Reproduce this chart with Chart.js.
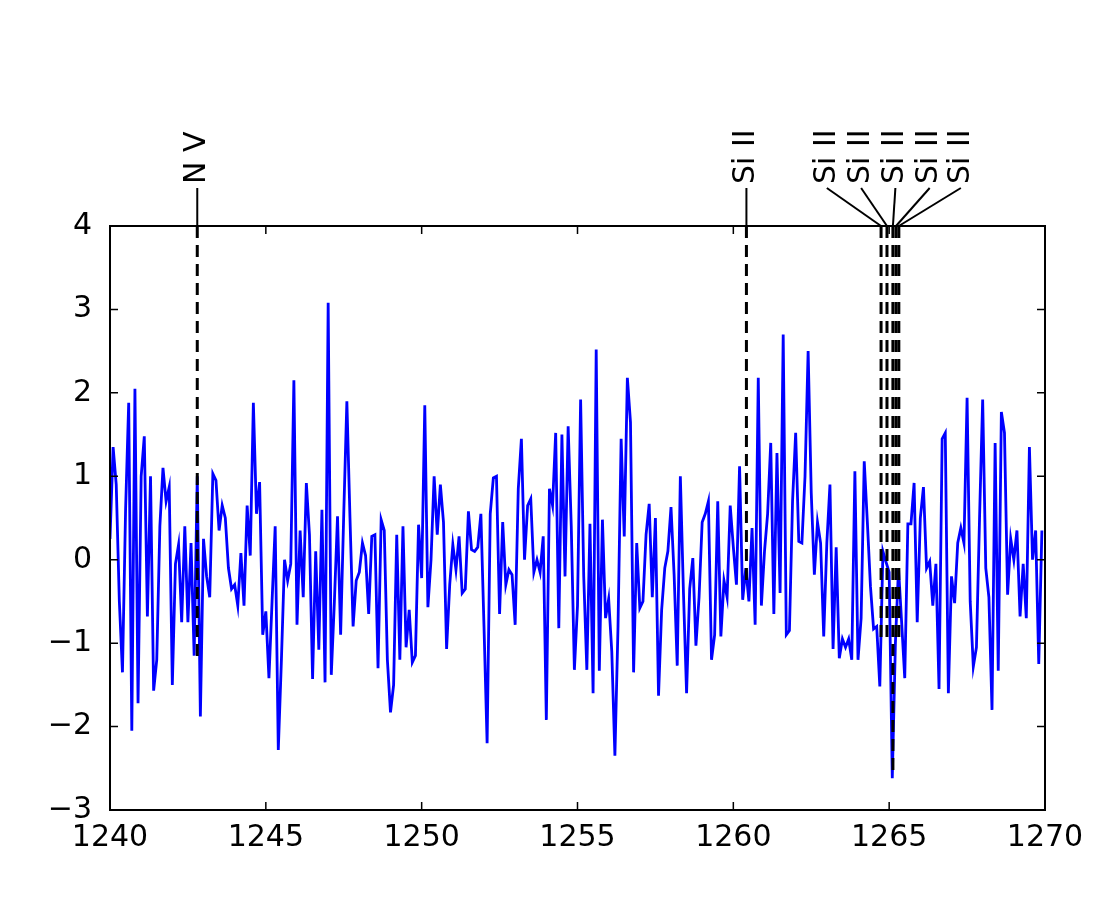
<!DOCTYPE html>
<html>
<head>
<meta charset="utf-8">
<script src="https://cdn.jsdelivr.net/npm/chart.js@4"></script>
<style>
  body { margin: 0; background: #fff; }
  canvas { display: block; }
</style>
</head>
<body>
<canvas id="c" width="1100" height="900"></canvas>
<script>
// spectrum, one point every 0.1 starting at 1240.0
const xStart = 1240;
const xStep = 0.1;
const flux = [
  0.25, 1.35, 0.9, -0.5, -1.35, 0.6, 1.88, -2.05, 2.05, -1.72,
  1.0, 1.48, -0.68, 1.0, -1.57, -1.2, 0.4, 1.1, 0.7, 0.87,
  -1.5, -0.05, 0.18, -0.75, 0.4, -0.75, 0.2, -1.15, 1.0, -1.88,
  0.25, -0.2, -0.45, 1.03, 0.95, 0.35, 0.65, 0.5, -0.1, -0.35,
  -0.3, -0.55, 0.08, -0.55, 0.65, 0.05, 1.88, 0.55, 0.93, -0.9,
  -0.62, -1.42, -0.5, 0.4, -2.28, -1.2, 0.0, -0.25, -0.05, 2.15,
  -0.78, 0.35, -0.45, 0.92, 0.3, -1.43, 0.1, -1.08, 0.6, -1.47,
  3.08, -1.38, -0.5, 0.52, -0.9, 0.55, 1.9, 0.5, -0.8, -0.25,
  -0.15, 0.2, 0.05, -0.65, 0.28, 0.3, -1.3, 0.48, 0.35, -1.2,
  -1.83, -1.5, 0.3, -1.2, 0.4, -1.05, -0.6, -1.23, -1.15, 0.42,
  -0.22, 1.85, -0.57, 0.0, 1.0, 0.3, 0.9, 0.45, -1.07, -0.3,
  0.18, -0.12, 0.28, -0.4, -0.35, 0.58, 0.12, 0.1, 0.15, 0.55,
  -0.8, -2.2, 0.55, 0.98, 1.0, -0.65, 0.45, -0.3, -0.12, -0.18,
  -0.78, 0.85, 1.45, 0.0, 0.65, 0.73, -0.15, 0.0, -0.15, 0.28,
  -1.92, 0.85, 0.65, 1.52, -0.82, 1.5, -0.2, 1.6, 0.4, -1.32,
  -0.55, 1.92, -0.2, -1.32, 0.43, -1.6, 2.52, -1.33, 0.48, -0.7,
  -0.47, -1.1, -2.35, -0.8, 1.45, 0.28, 2.18, 1.65, -1.35, 0.2,
  -0.58, -0.5, 0.3, 0.67, -0.45, 0.5, -1.63, -0.6, -0.1, 0.1,
  0.63, -0.18, -1.27, 1.0, -0.4, -1.6, -0.35, 0.02, -1.03, -0.45,
  0.45, 0.55, 0.7, -1.2, -0.9, 0.7, -0.92, -0.25, -0.45, 0.65,
  0.15, -0.3, 1.12, -0.48, -0.1, -0.5, 0.38, -0.78, 2.18, -0.55,
  0.1, 0.55, 1.4, -0.65, 1.28, -0.4, 2.7, -0.9, -0.85, 0.7,
  1.52, 0.22, 0.2, 1.0, 2.5, 0.8, -0.18, 0.45, 0.2, -0.92,
  0.2, 0.9, -1.07, 0.15, -1.18, -0.95, -1.05, -0.95, -1.2, 1.06,
  -1.2, -0.7, 1.18, 0.45, -0.32, -0.83, -0.8, -1.52, 0.1, -0.03,
  -0.15, -2.62, -1.0, -0.1, -0.75, -1.42, 0.43, 0.43, 0.92, -0.75,
  0.5, 0.87, -0.1, -0.02, -0.55, -0.05, -1.55, 1.45, 1.52, -1.6,
  -0.2, -0.52, 0.2, 0.38, 0.2, 1.94, -0.5, -1.28, -1.05, 0.5,
  1.92, -0.1, -0.45, -1.8, 1.4, -1.33, 1.77, 1.52, -0.42, 0.25,
  0.0, 0.35, -0.68, -0.05, -0.7, 1.35, 0.0, 0.35, -1.25, 0.35
];

// line identifications
const lineNames = ['N V', 'Si II', 'Si II', 'Si II', 'Si II', 'Si II', 'Si II'];
const lineWaves = [1242.8, 1260.42, 1264.74, 1264.93, 1265.12, 1265.22, 1265.31];
const lineBottoms = [-1.2, -0.25, -1.0, -1.0, -2.6, -1.0, -1.0];
const labelWaves = [1242.8, 1260.42, 1263.0, 1264.1, 1265.2, 1266.3, 1267.3];

const xTicks = [1240, 1245, 1250, 1255, 1260, 1265, 1270];
const yTicks = [-3, -2, -1, 0, 1, 2, 3, 4];

const points = flux.map((v, i) => ({ x: xStart + i * xStep, y: v }));
const FONT = '"DejaVu Sans", sans-serif';

const decorations = {
  id: 'decorations',
  afterDatasetsDraw(chart) {
    const { ctx, chartArea: a, scales: { x, y } } = chart;
    ctx.save();
    ctx.beginPath();
    ctx.rect(a.left, a.top, a.right - a.left, a.bottom - a.top);
    ctx.clip();
    // dashed identification lines
    ctx.strokeStyle = '#000';
    ctx.lineWidth = 3;
    ctx.setLineDash([12, 7]);
    lineWaves.forEach((w, i) => {
      ctx.beginPath();
      ctx.moveTo(x.getPixelForValue(w), a.top);
      ctx.lineTo(x.getPixelForValue(w), y.getPixelForValue(lineBottoms[i]));
      ctx.stroke();
    });
    ctx.restore();

    ctx.save();
    // frame
    ctx.strokeStyle = '#000';
    ctx.lineWidth = 2;
    ctx.strokeRect(a.left, a.top, a.right - a.left, a.bottom - a.top);
    // inward ticks on all sides
    ctx.lineWidth = 1.5;
    xTicks.forEach(t => {
      const px = x.getPixelForValue(t);
      ctx.beginPath();
      ctx.moveTo(px, a.bottom); ctx.lineTo(px, a.bottom - 8);
      ctx.moveTo(px, a.top); ctx.lineTo(px, a.top + 8);
      ctx.stroke();
    });
    yTicks.forEach(t => {
      const py = y.getPixelForValue(t);
      ctx.beginPath();
      ctx.moveTo(a.left, py); ctx.lineTo(a.left + 8, py);
      ctx.moveTo(a.right, py); ctx.lineTo(a.right - 8, py);
      ctx.stroke();
    });
    // leader lines and labels
    ctx.lineWidth = 2;
    ctx.fillStyle = '#000';
    ctx.font = '30px ' + FONT;
    ctx.textAlign = 'left';
    ctx.textBaseline = 'middle';
    lineWaves.forEach((w, i) => {
      const x0 = x.getPixelForValue(w);
      const x1 = x.getPixelForValue(labelWaves[i]);
      ctx.beginPath();
      ctx.moveTo(x0, a.top);
      ctx.lineTo(x1, a.top - 38);
      ctx.stroke();
      ctx.save();
      ctx.translate(x1, a.top - 42);
      ctx.rotate(-Math.PI / 2);
      ctx.fillText(lineNames[i], 0, 0);
      ctx.restore();
    });
    ctx.restore();
  }
};

new Chart(document.getElementById('c'), {
  type: 'line',
  data: {
    datasets: [{
      data: points,
      borderColor: '#0000ff',
      borderWidth: 2.8,
      pointRadius: 0,
      tension: 0
    }]
  },
  options: {
    responsive: false,
    animation: false,
    layout: { padding: { top: 226, right: 55, left: 0, bottom: 0 } },
    plugins: { legend: { display: false }, tooltip: { enabled: false } },
    scales: {
      x: {
        type: 'linear', min: 1240, max: 1270,
        afterBuildTicks: s => { s.ticks = xTicks.map(v => ({ value: v })); },
        afterFit: s => { s.height = 90; },
        grid: { display: false },
        border: { display: false },
        ticks: {
          color: '#000', font: { family: FONT, size: 30 }, padding: 2, maxRotation: 0,
          callback: v => String(v)
        }
      },
      y: {
        min: -3, max: 4,
        afterBuildTicks: s => { s.ticks = yTicks.map(v => ({ value: v })); },
        afterFit: s => { s.width = 110; },
        grid: { display: false },
        border: { display: false },
        ticks: {
          color: '#000', font: { family: FONT, size: 30 }, padding: 10,
          callback: v => String(v).replace('-', '\u2212')
        }
      }
    }
  },
  plugins: [decorations]
});
</script>
</body>
</html>
